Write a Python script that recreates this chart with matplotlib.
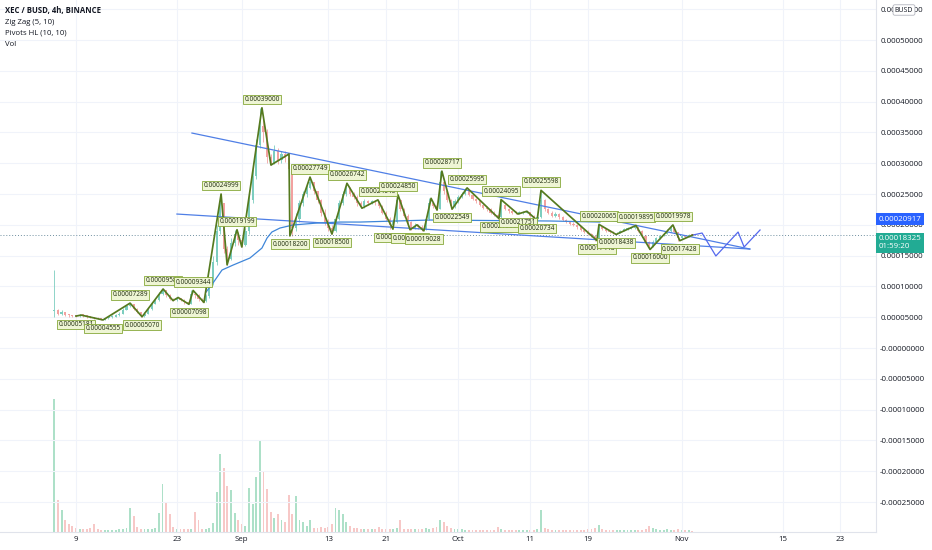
import numpy as np
import pandas as pd
import matplotlib
matplotlib.use('Agg')
import matplotlib.pyplot as plt
from matplotlib.transforms import blended_transform_factory

plt.rcParams['font.family'] = ['Open Sans', 'DejaVu Sans']

#################################################################
# Data  (prices in units of 1e-8 BUSD, 12h candles from Aug 6)
#################################################################
first_open = 6000
closes = [6200, 5600, 5900, 5400, 5300, 5200, 5181, 5400, 5300, 5100,
          5000, 4900, 4800, 4600, 4800, 5000, 5100, 5300, 5600, 6200,
          6800, 7100, 6400, 5800, 5200, 5600, 6300, 7200, 7800, 8800,
          9400, 8600, 8000, 7800, 8100, 7800, 7400, 7200, 8800, 8600,
          8000, 7600, 8400, 10500, 14000, 19000, 23500, 16000, 14500, 17000,
          18500, 17500, 16800, 19000, 24000, 28000, 33000, 36000, 35000, 31000,
          30000, 32000, 30500, 31500, 30800, 29000, 19500, 21000, 23500, 25000,
          26000, 27000, 25500, 24000, 22000, 20500, 19500, 19000, 21000, 23500,
          25000, 26000, 25000, 24500, 23500, 23000, 23800, 23500, 23800, 23700,
          23000, 22000, 21000, 20000, 20500, 24000, 22500, 21500, 20500, 19500,
          19800, 19700, 19300, 21000, 23500, 23000, 22600, 27000, 25500, 24000,
          23000, 23800, 24500, 25000, 25600, 24800, 24200, 23800, 23200, 22800,
          22500, 22000, 21600, 21200, 23200, 22600, 22200, 22000, 21900, 21900,
          22000, 22100, 21500, 21000, 21200, 24000, 22500, 22000, 21500, 21800,
          21200, 20800, 20500, 20200, 20000, 19600, 19200, 18900, 18500, 18200,
          17800, 19600, 19300, 19000, 18800, 18600, 18700, 19000, 19300, 19400,
          19500, 19600, 19000, 18200, 17200, 16500, 17200, 17800, 18200, 18500,
          19000, 19600, 18800, 17800, 18200, 18100, 18400, 18325]
highs = [12700, 6300, 6200, 5900, 5500, 5400, 5350, 5600, 5500, 5400,
         5200, 5100, 5000, 4900, 4900, 5100, 5300, 5500, 5800, 6500,
         7000, 7289, 7100, 6500, 5900, 5800, 6500, 7400, 8000, 9100,
         9580, 9400, 8700, 8100, 8200, 8200, 7900, 7500, 9344, 9000,
         8700, 8100, 8700, 11000, 15000, 20000, 24999, 23500, 16500, 17800,
         19199, 18800, 17800, 19500, 25000, 29000, 34000, 39000, 37500, 35500,
         31500, 33000, 32500, 32000, 32000, 31500, 29500, 22000, 24000, 25500,
         26500, 27749, 27000, 25500, 24200, 22500, 21000, 20000, 21500, 24000,
         25500, 26742, 26200, 25300, 24800, 23800, 24200, 24000, 24100, 24000,
         23800, 23200, 22200, 21200, 21000, 24850, 24200, 22800, 21800, 20600,
         20300, 20200, 20000, 21500, 24300, 23600, 23200, 28717, 27200, 25700,
         24200, 24200, 24800, 25400, 25995, 25700, 25000, 24300, 24000, 23400,
         23000, 22700, 22200, 21800, 24095, 23300, 22800, 22400, 22300, 22200,
         22200, 22200, 22100, 21600, 21500, 25598, 24200, 22800, 22200, 22100,
         21900, 21400, 21000, 20700, 20400, 20200, 19800, 19400, 19100, 18700,
         18400, 20065, 19800, 19500, 19200, 19000, 18900, 19200, 19500, 19600,
         19700, 19895, 19700, 19100, 18400, 17400, 17500, 18000, 18400, 18700,
         19300, 19978, 19700, 18900, 18400, 18400, 18500, 18450]
lows = [5000, 5400, 5300, 5200, 5100, 5000, 5100, 5100, 5100, 4950,
        4850, 4750, 4650, 4555, 4550, 4750, 4950, 5050, 5250, 5500,
        6100, 6600, 6200, 5700, 5070, 5100, 5500, 6200, 7100, 7600,
        8600, 8300, 7800, 7700, 7700, 7600, 7200, 7098, 7100, 8200,
        7700, 7400, 7500, 8200, 10200, 13500, 18500, 15500, 13500, 14300,
        16500, 16800, 16400, 16600, 18500, 23500, 27500, 32500, 33500, 30000,
        29700, 29800, 29800, 30000, 30200, 28500, 18200, 19000, 20500, 23000,
        24500, 25800, 25000, 23500, 21500, 20000, 19000, 18500, 18800, 20800,
        23200, 24700, 24600, 24200, 23000, 22700, 22800, 23200, 23300, 23200,
        22700, 21800, 20700, 19300, 19600, 20300, 22200, 21200, 20200, 19200,
        19300, 19400, 19028, 19200, 20800, 22700, 22400, 22500, 25000, 23700,
        22549, 22800, 23600, 24400, 24900, 24600, 24000, 23500, 23000, 22600,
        22200, 21800, 21400, 21009, 21100, 22400, 22000, 21800, 21751, 21800,
        21800, 21900, 21300, 20734, 20900, 21100, 22300, 21800, 21300, 21300,
        21000, 20600, 20300, 20000, 19800, 19400, 19000, 18700, 18300, 18000,
        17448, 17700, 19100, 18800, 18600, 18438, 18500, 18600, 19000, 19200,
        19300, 19400, 18900, 18100, 17100, 16000, 16400, 17100, 17700, 18200,
        18500, 18900, 18700, 17428, 17700, 17900, 18000, 18250]
volume = [133, 32, 22, 12, 8, 6, 4, 3, 3, 3,
          4, 8, 3, 2, 2, 2, 2, 2, 3, 3,
          4, 24, 16, 5, 3, 3, 3, 3, 4, 19,
          48, 29, 18, 5, 3, 3, 3, 3, 3, 20,
          12, 3, 3, 4, 9, 40, 78, 64, 46, 42,
          19, 12, 8, 6, 44, 28, 55, 91, 61, 43,
          20, 14, 18, 12, 10, 37, 18, 36, 12, 10,
          6, 12, 4, 4, 5, 4, 5, 8, 24, 22,
          18, 10, 6, 4, 4, 3, 3, 3, 3, 3,
          5, 3, 3, 3, 3, 4, 12, 3, 3, 3,
          3, 3, 3, 4, 3, 4, 5, 12, 10, 6,
          4, 3, 3, 3, 2, 2, 2, 2, 2, 2,
          2, 2, 2, 5, 3, 2, 2, 2, 2, 2,
          2, 2, 2, 2, 3, 22, 4, 3, 2, 2,
          2, 2, 2, 2, 2, 2, 2, 2, 3, 3,
          4, 7, 3, 2, 2, 2, 2, 2, 2, 2,
          2, 2, 2, 2, 3, 6, 4, 3, 2, 2,
          3, 2, 2, 3, 2, 2, 2, 1]

# Zig Zag pivots
zz_time = ["2021-08-09 00:00", "2021-08-09 17:00", "2021-08-12 18:00", "2021-08-16 12:00", "2021-08-18 04:00",
           "2021-08-21 02:00", "2021-08-22 11:00", "2021-08-23 04:00", "2021-08-24 16:00", "2021-08-25 06:00",
           "2021-08-26 18:00", "2021-08-29 03:00", "2021-08-29 23:00", "2021-08-31 08:00", "2021-09-01 00:00",
           "2021-09-03 19:00", "2021-09-05 01:00", "2021-09-07 13:00", "2021-09-07 16:00", "2021-09-10 11:00",
           "2021-09-13 12:00", "2021-09-15 14:00", "2021-09-17 16:00", "2021-09-19 21:00", "2021-09-21 23:00",
           "2021-09-22 16:00", "2021-09-24 08:00", "2021-09-25 07:00", "2021-09-26 06:00", "2021-09-27 06:00",
           "2021-09-28 02:00", "2021-09-28 18:00", "2021-09-30 04:00", "2021-10-02 06:00", "2021-10-06 16:00",
           "2021-10-06 23:00", "2021-10-09 07:00", "2021-10-10 13:00", "2021-10-11 23:00", "2021-10-12 12:00",
           "2021-10-20 06:00", "2021-10-20 13:00", "2021-10-22 22:00", "2021-10-25 16:00", "2021-10-27 15:00",
           "2021-10-30 19:00", "2021-10-31 18:00", "2021-11-02 12:00"]
zz_price = [5181, 5350, 4555, 7289, 5070, 9580, 7700, 8200, 7098, 9344,
            7400, 24999, 13500, 19199, 16400, 39000, 29700, 31500, 18200, 27749,
            18500, 26742, 22700, 24045, 19301, 24850, 19204, 20000, 19028, 24300,
            22400, 28717, 22549, 25995, 21009, 24095, 21751, 22200, 20734, 25598,
            17448, 20065, 18438, 19895, 16000, 19978, 17428, 18325]
zz_show = [1, 0, 1, 1, 1, 1, 0, 0, 1, 1,
           0, 1, 0, 1, 0, 1, 0, 0, 1, 1,
           1, 1, 0, 1, 1, 1, 1, 0, 1, 0,
           0, 1, 1, 1, 1, 1, 1, 0, 1, 1,
           1, 1, 1, 1, 1, 1, 1, 0]

# drawn lines
upper_time = ["2021-08-25 02:00", "2021-11-10 11:00"]
upper_price = [34900, 16070]
lower_time = ["2021-08-23 00:00", "2021-11-10 11:00"]
lower_price = [21750, 16070]
curve_time = ["2021-08-27 01:00", "2021-08-28 00:00", "2021-08-29 06:00", "2021-08-30 19:00",
              "2021-09-02 03:00", "2021-09-03 19:00", "2021-09-04 12:00", "2021-09-05 04:00",
              "2021-09-06 07:00", "2021-09-08 02:00", "2021-09-11 10:00", "2021-09-14 15:00",
              "2021-09-17 09:00", "2021-09-27 02:00", "2021-10-13 18:00", "2021-10-20 16:00"]
curve_price = [9090, 10550, 12660, 13470, 14610, 16230, 17860, 18830,
               19480, 19970, 20290, 20450, 20450, 20780, 20620, 20450]
proj_time = ["2021-11-02 12:00", "2021-11-03 20:00", "2021-11-05 18:00",
             "2021-11-08 20:00", "2021-11-09 16:00", "2021-11-11 21:00"]
proj_price = [18325, 18670, 14940, 18830, 16400, 19160]

last_price = 18325
line_price = 20917

# axis ticks
tick_dates = ["2021-08-09", "2021-08-23", "2021-09-01", "2021-09-13", "2021-09-21", "2021-10-01",
              "2021-10-11", "2021-10-19", "2021-11-01", "2021-11-15", "2021-11-23"]
tick_text = ["9", "23", "Sep", "13", "21", "Oct", "11", "19", "Nov", "15", "23"]
price_ticks = [-25000, -20000, -15000, -10000, -5000, 0, 5000, 10000, 15000,
               20000, 25000, 30000, 35000, 40000, 45000, 50000, 55000]
price_text = ["-0.00025000", "-0.00020000", "-0.00015000", "-0.00010000", "-0.00005000",
              "-0.00000000", "0.00005000", "0.00010000", "0.00015000", "0.00020000",
              "0.00025000", "0.00030000", "0.00035000", "0.00040000", "0.00045000",
              "0.00050000", "0.00055000"]

S = 1e-8
TXT = '#131722'

#################################################################
# Figure
#################################################################
fig = plt.figure(figsize=(9.32, 5.5), dpi=100)
fig.patch.set_facecolor('white')
ax = fig.add_axes([0, 18/550, 876/932, 532/550])
axv = ax.twinx()
ax.set_zorder(2)
ax.patch.set_visible(False)
axv.set_zorder(1)
axv.axis('off')

t = pd.date_range("2021-08-06 00:00", periods=len(closes), freq="12h")
c = np.array(closes) * S
o = np.r_[first_open * S, c[:-1]]
h = np.array(highs) * S
l = np.array(lows) * S
up = c >= o

# volume
vol = np.array(volume)
axv.bar(t, vol, width=0.26, color=np.where(up, '#ade0c8', '#f7c8c7'), zorder=1)
axv.set_ylim(0, vol.max() * 4)

# candles
ccol = np.where(up, '#7ccdbf', '#f2a1a0')
ax.vlines(t, l, h, colors=ccol, lw=0.6, zorder=2)
ax.bar(t, np.maximum(np.abs(c - o), 1.5e-6), bottom=np.minimum(o, c), width=0.3,
       color=ccol, zorder=3)

# current price line
ax.axhline(last_price * S, color='#6f8fa0', lw=0.7, ls=(0, (1, 2)), zorder=2)

# trend lines and curve
blue = '#4f7fe6'
ax.plot(pd.to_datetime(upper_time), np.array(upper_price) * S, color=blue, lw=0.9, zorder=4)
ax.plot(pd.to_datetime(lower_time), np.array(lower_price) * S, color=blue, lw=0.9, zorder=4)
ax.plot(pd.to_datetime(curve_time), np.array(curve_price) * S, color='#3f86d9', lw=0.9, zorder=4)
ax.plot(pd.to_datetime(proj_time), np.array(proj_price) * S, color='#5468ee', lw=0.9, zorder=4)

# zig zag
zt = pd.to_datetime(zz_time)
zp = np.array(zz_price) * S
ax.plot(zt, zp, color='#557a1f', lw=1.25, zorder=5)
for i in range(len(zt)):
    if not zz_show[i]:
        continue
    high = (i % 2 == 1)
    ax.annotate(f"{zp[i]:.8f}", (zt[i], zp[i]), xytext=(0, 3.5 if high else -3.5),
                textcoords='offset points', ha='center', va='bottom' if high else 'top',
                fontsize=4.7, color='#1d2a0c', zorder=6,
                bbox=dict(boxstyle='square,pad=0.2', fc='#eef5d4', ec='#86a83a', lw=0.6))

# axes setup
ax.set_xlim(pd.Timestamp("2021-08-09") - pd.Timedelta(days=10.54),
            pd.Timestamp("2021-08-09") + pd.Timedelta(days=110.96))
ax.set_ylim(-0.0002987, 0.000565)
ax.set_xticks(pd.to_datetime(tick_dates))
ax.set_xticklabels(tick_text)
ax.yaxis.tick_right()
ax.set_yticks(np.array(price_ticks) * S)
ax.set_yticklabels(price_text)
ax.tick_params(axis='x', length=0, pad=3, labelsize=5.7, labelcolor=TXT)
ax.tick_params(axis='y', length=0, pad=3, labelsize=5.7, labelcolor=TXT)
ax.grid(True, color='#f0f3fa', lw=0.8, zorder=0)
ax.set_axisbelow(True)
for s in ['top', 'left']:
    ax.spines[s].set_visible(False)
ax.spines['right'].set_color('#e0e3eb')
ax.spines['bottom'].set_color('#e0e3eb')

# price tags on the scale
tr = blended_transform_factory(ax.transAxes, ax.transData)
ax.text(1.003, line_price * S, "0.00020917", transform=tr, ha='left', va='center',
        fontsize=5.7, color='white', clip_on=False, zorder=10,
        bbox=dict(boxstyle='square,pad=0.28', fc='#2962ff', ec='none'))
ax.text(1.003, last_price * S, "0.00018325\n01:59:20", transform=tr, ha='left', va='top',
        fontsize=5.7, color='white', clip_on=False, zorder=10, linespacing=1.25,
        bbox=dict(boxstyle='square,pad=0.28', fc='#22ab94', ec='none'))

# header
fig.text(5/932, 1 - 11/550, "XEC / BUSD, 4h, BINANCE", fontsize=5.6, weight='bold', color=TXT, va='center')
fig.text(5/932, 1 - 22/550, "Zig Zag (5, 10)", fontsize=5.6, color=TXT, va='center')
fig.text(5/932, 1 - 33/550, "Pivots HL (10, 10)", fontsize=5.6, color=TXT, va='center')
fig.text(5/932, 1 - 44/550, "Vol", fontsize=5.6, color=TXT, va='center')
fig.text(904/932, 1 - 10/550, "BUSD", fontsize=5, color=TXT, ha='center', va='center', zorder=10,
         bbox=dict(boxstyle='round,pad=0.25', fc='white', ec='#b2b5be', lw=0.6))

plt.savefig('out.png', dpi=100)
